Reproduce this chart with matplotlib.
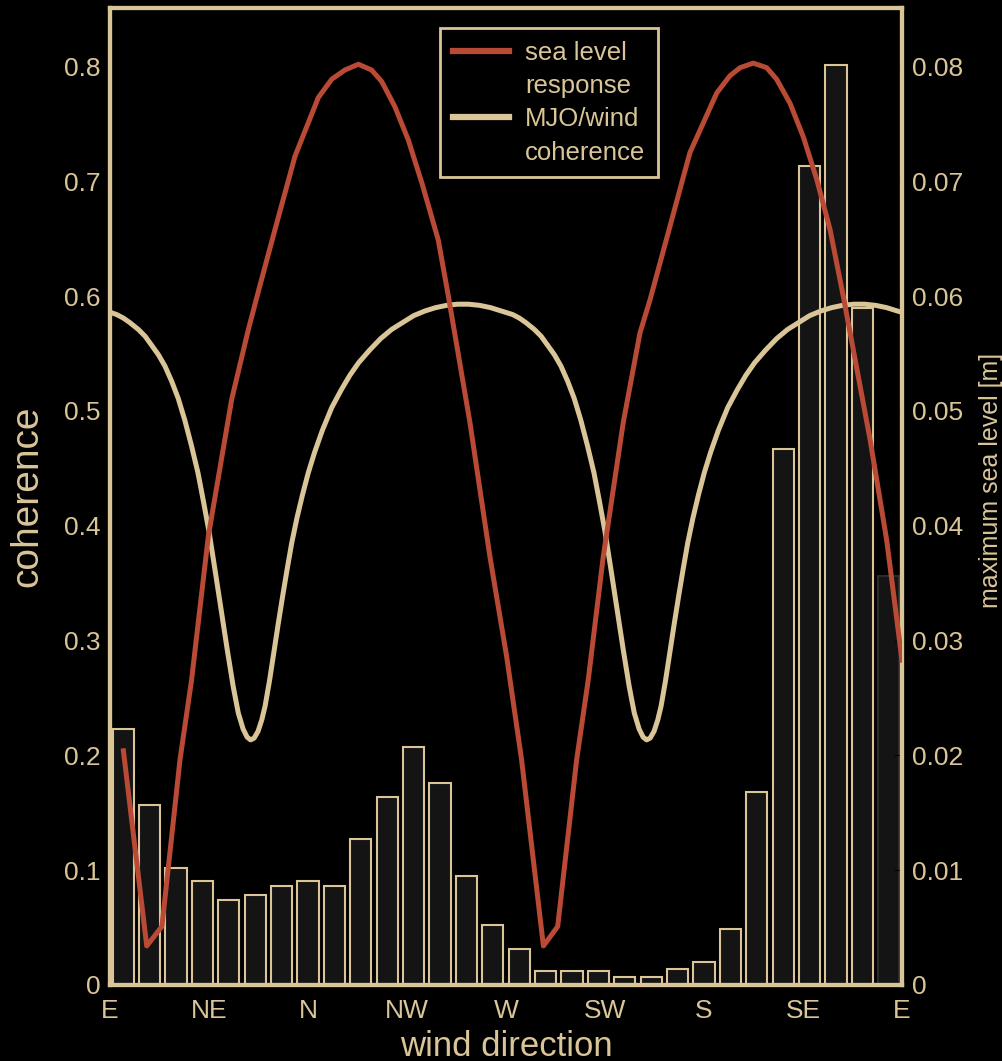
import numpy as np
import matplotlib.pyplot as plt

# colours
TAN = '#d9c597'
RED = '#b94a36'
BAR = '#141414'

plt.rcParams['font.family'] = ['Liberation Sans', 'DejaVu Sans']

# wind direction ticks
dir_ticks = [0, 45, 90, 135, 180, 225, 270, 315, 360]
dir_labels = ['E', 'NE', 'N', 'NW', 'W', 'SW', 'S', 'SE', 'E']

# histogram bars (12 deg bins), coherence axis units
bar_centers = [6, 18, 30, 42, 54, 66, 78, 90, 102, 114, 126, 138, 150, 162, 174,
               186, 198, 210, 222, 234, 246, 258, 270, 282, 294, 306, 318, 330, 342, 354]
bar_heights = [0.223, 0.157, 0.102, 0.091, 0.074, 0.078, 0.086, 0.091, 0.086, 0.127,
               0.164, 0.207, 0.176, 0.095, 0.052, 0.031, 0.012, 0.012, 0.012, 0.007,
               0.007, 0.014, 0.020, 0.049, 0.168, 0.467, 0.713, 0.801, 0.590, 0.356]

# sea level response [m]
sl_dir = [6.1, 16.7, 23.6, 31.8, 37.1, 44.7, 55.3, 62.9, 67.7, 74, 84.1, 94.7, 100.8,
          106.8, 112.9, 118.9, 123.5, 129.5, 135.6, 141.7, 149.2, 153.8, 163.6, 172.7,
          180.3, 187.1, 197.0, 203.5, 212.1, 217.4, 224.2, 233.3, 240.9, 245.5, 263.6,
          275.8, 281.8, 286.4, 292.4, 298.5, 303.0, 309.1, 315.1, 321.2, 327.3, 333.3,
          345.5, 353.0, 360]
sl_val = [0.0204, 0.0034, 0.0051, 0.0196, 0.0266, 0.0391, 0.0510, 0.0571, 0.0606, 0.0651,
          0.0722, 0.0773, 0.0789, 0.0797, 0.0802, 0.0797, 0.0787, 0.0765, 0.0736, 0.0699,
          0.0649, 0.0600, 0.0490, 0.0373, 0.0286, 0.0196, 0.0034, 0.0051, 0.0196, 0.0266,
          0.0373, 0.0490, 0.0568, 0.0597, 0.0725, 0.0777, 0.0792, 0.0799, 0.0803, 0.0799,
          0.0789, 0.0768, 0.0739, 0.0702, 0.0658, 0.0600, 0.0475, 0.0388, 0.0283]

# MJO / wind coherence
coh_dir = [0, 3, 6, 9, 12.9, 16, 19, 22, 25, 28, 31, 34, 37, 40, 42.5, 45, 47.7, 50.5,
           53.3, 56, 58.3, 60.5, 62.3, 63.9, 65.5, 67.3, 69, 70.5, 72.5, 74.5, 76.5, 78.5,
           80.5, 82.6, 85, 87.5, 90.1, 93, 96.5, 100.8, 105, 109, 113, 118, 123, 128,
           133, 138, 143, 148, 153, 158, 163, 168, 173, 178,
           183, 186, 189, 192.9, 196, 199, 202, 205, 208, 211, 214, 217, 220, 222.5, 225,
           227.7, 230.5, 233.3, 236, 238.3, 240.5, 242.3, 243.9, 245.5, 247.3, 249, 250.5,
           252.5, 254.5, 256.5, 258.5, 260.5, 262.6, 265, 267.5, 270.1, 273, 276.5,
           280.8, 285, 289, 293, 298, 303, 308, 313, 318, 323, 328, 333, 338, 343, 348,
           353, 358, 360]
coh_val = [0.586, 0.584, 0.581, 0.577, 0.571, 0.565, 0.557, 0.549, 0.539, 0.526, 0.511,
           0.492, 0.470, 0.446, 0.421, 0.395, 0.362, 0.327, 0.292, 0.260, 0.237, 0.223,
           0.216, 0.2135, 0.215, 0.221, 0.231, 0.243, 0.265, 0.290, 0.315, 0.339, 0.362,
           0.385, 0.407, 0.427, 0.446, 0.464, 0.483, 0.503, 0.518, 0.531, 0.542, 0.553,
           0.563, 0.571, 0.577, 0.583, 0.587, 0.590, 0.592, 0.593, 0.593, 0.592, 0.590,
           0.587,
           0.584, 0.581, 0.577, 0.571, 0.565, 0.557, 0.549, 0.539, 0.526, 0.511, 0.492,
           0.470, 0.446, 0.421, 0.395, 0.362, 0.327, 0.292, 0.260, 0.237, 0.223, 0.216,
           0.2135, 0.215, 0.221, 0.231, 0.243, 0.265, 0.290, 0.315, 0.339, 0.362, 0.385,
           0.407, 0.427, 0.446, 0.464, 0.483, 0.503, 0.518, 0.531, 0.542, 0.553, 0.563,
           0.571, 0.577, 0.583, 0.587, 0.590, 0.592, 0.593, 0.593, 0.592, 0.590, 0.587,
           0.586]

fig = plt.figure(figsize=(10.02, 10.61), dpi=100, facecolor='black')
ax = fig.add_axes([110 / 1002, 1 - 985 / 1061, 792 / 1002, 977 / 1061])
ax.set_facecolor('black')

edges = [TAN] * (len(bar_heights) - 1) + ['#2a2a2a']
ax.bar(bar_centers, bar_heights, width=9.6, color=BAR, edgecolor=edges, linewidth=1.5, zorder=2)
ax.plot(coh_dir, coh_val, color=TAN, lw=3.6, zorder=3)

ax.set_xlim(0, 360)
ax.set_ylim(0, 0.851)
ax.set_xticks(dir_ticks)
ax.set_xticklabels(dir_labels)
ax.set_yticks([0, 0.1, 0.2, 0.3, 0.4, 0.5, 0.6, 0.7, 0.8])
ax.set_yticklabels(['0', '0.1', '0.2', '0.3', '0.4', '0.5', '0.6', '0.7', '0.8'])
ax.tick_params(axis='both', direction='in', color='black', labelcolor=TAN, labelsize=19, length=6)
ax.tick_params(axis='x', pad=10)
ax.tick_params(axis='y', pad=7)

ax2 = ax.twinx()
ax2.plot(sl_dir, sl_val, color=RED, lw=3.6, zorder=4)
ax2.set_ylim(0, 0.0851)
ax2.set_yticks([0, 0.01, 0.02, 0.03, 0.04, 0.05, 0.06, 0.07, 0.08])
ax2.set_yticklabels(['0', '0.01', '0.02', '0.03', '0.04', '0.05', '0.06', '0.07', '0.08'])
ax2.tick_params(axis='y', direction='in', color='black', labelcolor=TAN, labelsize=19, length=6, pad=7)

for a in (ax, ax2):
    for s in a.spines.values():
        s.set_color(TAN)
        s.set_linewidth(3)

ax.set_xlabel('wind direction', color=TAN, fontsize=25)
ax.xaxis.set_label_coords(0.5, -0.046)
ax.set_ylabel('coherence', color=TAN, fontsize=28)
ax.yaxis.set_label_coords(-0.082, 0.5)
ax2.set_ylabel('maximum sea level [m]', color=TAN, fontsize=18)
ax2.yaxis.set_label_coords(1.097, 0.516)

# legend: the handle sits beside the first line of each two-line label
h1 = plt.Line2D([], [], color=RED, lw=4.5)
h2 = plt.Line2D([], [], color=TAN, lw=4.5)
blank = plt.Line2D([], [], color='none')
leg = ax2.legend([h1, blank, h2, blank], ['sea level', 'response', 'MJO/wind', 'coherence'],
                 loc='upper left', bbox_to_anchor=(0.4167, 0.9795), borderaxespad=0,
                 fontsize=18.5, facecolor='black', edgecolor=TAN, framealpha=1,
                 fancybox=False, handlelength=2.2, handletextpad=0.6,
                 labelspacing=0.36, borderpad=0.5)
leg.get_frame().set_linewidth(2)
for t in leg.get_texts():
    t.set_color(TAN)

fig.savefig('out.png', dpi=100, facecolor='black')
